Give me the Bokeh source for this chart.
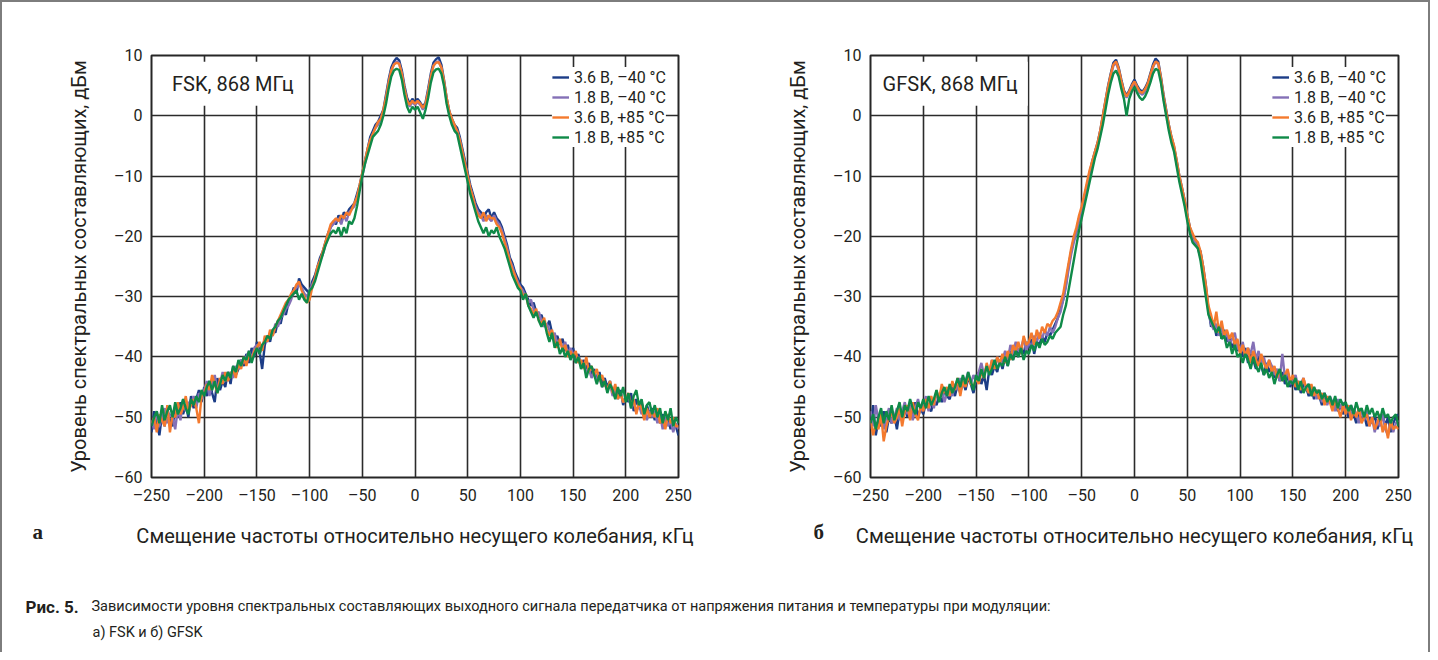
import numpy as np
from bokeh.plotting import figure
from bokeh.models import Range1d, Legend, LegendItem, Label
from bokeh.layouts import column, row
from bokeh.embed import file_html
from bokeh.resources import INLINE

# ---------------- data ----------------
FREQ_MIN, FREQ_MAX = -250.0, 250.0          # kHz, samples every 2.5 kHz
x_ticks = [-250, -200, -150, -100, -50, 0, 50, 100, 150, 200, 250]
y_ticks = [-60, -50, -40, -30, -20, -10, 0, 10]
series_labels = ["3.6 В, –40 °C", "1.8 В, –40 °C", "3.6 В, +85 °C", "1.8 В, +85 °C"]
series_colors = ["#1c3d87", "#8470b6", "#f47a2e", "#0f8a48"]

fsk_36v_m40 = [
    -52.5, -49.0, -51.0, -53.0, -49.5, -51.5, -48.5, -50.5, -51.5, -48.5,
    -50.0, -47.5, -49.5, -48.0, -50.0, -46.5, -48.5, -47.0, -45.5, -47.5,
    -45.0, -46.5, -44.0, -46.0, -47.5, -43.5, -45.5, -44.0, -45.0, -42.5,
    -44.5, -41.5, -43.0, -42.0, -40.5, -41.5, -39.5, -41.0, -38.5, -40.0,
    -37.5, -39.0, -42.0, -38.0, -36.5, -37.5, -35.5, -36.0, -34.0, -34.5,
    -32.5, -33.0, -31.0, -30.0, -28.5, -29.5, -27.0, -28.0, -28.5, -29.0,
    -29.5, -27.5, -26.5, -25.0, -23.5, -22.5, -21.0, -19.5, -18.5, -17.5,
    -18.0, -16.5, -17.5, -16.0, -16.5, -15.5, -15.0, -14.5, -13.0, -11.5,
    -9.5, -7.5, -5.5, -3.5, -2.5, -1.5, -1.0, 0.0, 1.0, 3.5,
    6.0, 8.0, 9.0, 9.6, 9.2, 7.5, 5.0, 3.0, 2.0, 2.8,
    2.3, 2.8, 2.2, 1.5, 2.2, 4.5, 7.0, 8.8, 9.4, 9.7,
    8.5, 6.0, 3.0, 0.8, -0.5, -1.5, -2.0, -3.5, -5.5, -7.5,
    -9.5, -11.5, -13.0, -14.5, -15.5, -16.0, -17.0, -16.0, -15.5, -17.0,
    -16.0, -17.0, -17.5, -18.5, -20.0, -21.5, -23.5, -24.5, -26.0, -27.0,
    -28.0, -28.5, -29.5, -30.5, -31.5, -31.0, -32.5, -33.5, -33.0, -34.5,
    -35.0, -34.0, -36.0, -37.5, -36.5, -38.0, -37.0, -39.0, -38.0, -40.0,
    -38.5, -40.5, -39.5, -41.5, -40.5, -42.0, -41.0, -43.0, -42.0, -44.0,
    -42.5, -44.5, -43.5, -45.0, -44.0, -46.0, -45.0, -46.5, -45.5, -48.0,
    -46.5, -47.5, -46.0, -49.0, -47.0, -48.5, -47.5, -50.0, -48.0, -49.5,
    -48.5, -50.5, -49.0, -51.0, -49.5, -51.5, -50.0, -52.0, -50.5, -51.5,
    -53.0]

fsk_18v_m40 = [
    -50.5, -52.0, -49.0, -51.5, -50.0, -48.5, -51.0, -49.5, -50.0, -52.0,
    -48.5, -50.5, -47.0, -49.0, -47.5, -48.0, -46.5, -48.5, -46.0, -47.0,
    -45.5, -44.0, -46.5, -44.5, -43.0, -45.5, -44.5, -42.5, -44.0, -43.5,
    -42.5, -43.5, -41.5, -42.0, -40.5, -41.0, -40.0, -39.0, -40.5, -38.5,
    -38.0, -39.5, -38.5, -37.0, -37.5, -36.0, -36.5, -34.5, -35.0, -33.5,
    -33.0, -32.0, -31.5, -30.5, -29.0, -28.5, -28.0, -28.5, -29.5, -30.0,
    -29.0, -28.0, -27.0, -25.5, -24.0, -23.0, -21.5, -20.0, -18.5, -18.0,
    -17.5, -17.0, -18.0, -16.5, -17.5, -16.0, -15.5, -15.0, -13.5, -12.0,
    -10.0, -8.0, -6.0, -4.0, -3.0, -2.0, -1.5, -0.5, 0.5, 3.0,
    5.5, 7.5, 8.5, 9.0, 8.7, 7.0, 4.5, 2.5, 1.5, 2.3,
    1.8, 2.3, 1.8, 1.0, 1.8, 4.0, 6.5, 8.3, 8.9, 9.0,
    8.0, 5.5, 2.5, 0.3, -1.0, -2.0, -2.5, -4.0, -6.0, -8.0,
    -10.0, -12.0, -13.5, -15.0, -16.0, -16.5, -17.5, -16.5, -17.0, -17.5,
    -16.5, -17.5, -18.0, -19.0, -20.5, -22.0, -24.0, -25.0, -26.5, -27.5,
    -28.5, -29.0, -30.0, -31.0, -30.5, -32.0, -33.0, -32.5, -34.0, -35.0,
    -34.5, -35.5, -37.0, -36.0, -38.0, -37.5, -38.5, -37.5, -39.5, -38.5,
    -39.5, -41.0, -40.0, -41.5, -41.0, -42.5, -42.0, -43.5, -42.5, -44.0,
    -43.5, -45.0, -44.5, -45.5, -44.5, -46.5, -45.5, -47.0, -46.0, -47.5,
    -47.0, -46.5, -48.5, -47.5, -49.0, -48.0, -49.5, -48.5, -50.5, -49.0,
    -50.0, -49.0, -51.0, -49.5, -52.0, -50.0, -51.5, -50.5, -52.5, -51.0,
    -52.0]

fsk_36v_p85 = [
    -51.0, -50.0, -52.5, -49.5, -50.5, -51.5, -48.0, -52.5, -49.5, -50.0,
    -47.5, -49.5, -48.5, -46.5, -49.0, -48.0, -47.0, -48.5, -51.0, -46.5,
    -46.0, -44.5, -45.5, -43.0, -44.5, -46.0, -43.5, -44.5, -42.5, -44.0,
    -43.0, -42.0, -43.5, -41.0, -42.0, -40.0, -41.5, -39.5, -40.5, -39.0,
    -38.5, -37.5, -39.0, -36.5, -37.5, -35.5, -36.5, -35.0, -34.0, -33.0,
    -32.0, -31.0, -30.5, -29.5, -29.0, -28.0, -27.5, -29.0, -30.0, -31.0,
    -30.5, -28.5, -27.0, -25.0, -24.0, -22.5, -21.0, -19.5, -18.0, -17.5,
    -17.0, -17.5, -16.5, -17.0, -16.0, -16.5, -15.5, -14.5, -13.5, -11.5,
    -9.5, -7.5, -5.5, -4.0, -3.0, -2.0, -1.0, -0.5, 1.0, 3.0,
    5.5, 7.5, 8.5, 8.8, 8.6, 7.0, 4.5, 2.5, 1.8, 2.5,
    2.0, 2.5, 2.0, 1.3, 2.0, 4.0, 6.5, 8.3, 8.8, 8.9,
    8.0, 5.8, 3.0, 0.8, -0.5, -1.5, -2.5, -4.0, -6.0, -8.0,
    -10.0, -12.0, -13.5, -15.5, -16.5, -17.0, -16.0, -17.5, -16.5, -17.0,
    -17.0, -18.0, -18.5, -19.5, -21.0, -22.5, -24.0, -25.5, -26.5, -28.0,
    -28.5, -30.0, -29.5, -31.5, -32.0, -33.0, -32.0, -34.0, -34.5, -33.5,
    -35.5, -36.5, -35.5, -37.5, -38.5, -37.0, -39.0, -38.0, -40.0, -39.0,
    -40.0, -39.0, -41.0, -40.5, -42.0, -40.0, -42.5, -41.5, -43.0, -42.0,
    -44.0, -43.0, -44.5, -45.5, -44.0, -46.0, -44.5, -47.0, -46.0, -47.5,
    -47.0, -46.0, -48.0, -47.0, -49.5, -47.5, -48.5, -50.5, -48.5, -50.0,
    -49.0, -50.0, -48.5, -51.0, -50.0, -52.0, -49.5, -51.0, -50.0, -51.5,
    -51.5]

fsk_18v_p85 = [
    -51.5, -50.0, -49.0, -51.0, -48.0, -50.5, -49.0, -48.0, -50.0, -47.5,
    -49.5, -48.5, -47.0, -48.5, -49.5, -47.0, -48.0, -46.5, -47.5, -45.5,
    -46.5, -45.0, -44.0, -45.5, -44.0, -46.0, -44.5, -43.0, -44.0, -42.5,
    -43.5, -41.5, -42.5, -40.5, -41.5, -40.0, -40.5, -39.0, -41.0, -39.5,
    -38.5, -39.5, -38.0, -37.5, -36.5, -37.0, -35.5, -35.0, -34.0, -33.5,
    -32.5, -31.5, -30.5, -30.0, -29.5, -29.0, -30.5, -29.5, -30.5, -31.0,
    -29.0, -28.5, -27.5, -26.0, -24.5, -23.0, -21.5, -20.5, -19.5, -19.0,
    -19.5, -18.5, -20.0, -18.5, -19.5, -17.5, -18.0, -17.0, -15.0, -12.5,
    -10.0, -8.0, -6.5, -5.0, -3.5, -3.0, -2.5, -1.5, 0.0, 2.0,
    4.5, 6.5, 7.5, 7.8, 7.6, 6.0, 3.5, 1.5, 0.5, 1.5,
    1.0, 1.5, 0.5, -0.5, 1.0, 3.0, 5.5, 7.2, 7.7, 7.8,
    7.0, 5.0, 2.0, 0.0, -1.5, -2.5, -3.0, -5.0, -7.0, -9.0,
    -11.0, -13.0, -14.5, -16.0, -17.5, -18.5, -19.5, -18.5, -20.0, -19.0,
    -19.5, -18.5, -20.0, -21.0, -22.0, -23.5, -25.0, -26.5, -27.5, -28.5,
    -29.0, -30.5, -29.5, -31.5, -32.5, -33.5, -32.5, -34.0, -35.0, -34.0,
    -36.0, -37.5, -36.0, -38.5, -37.5, -39.5, -38.5, -40.0, -39.0, -40.5,
    -39.5, -41.0, -40.0, -42.0, -41.0, -43.5, -42.0, -41.5, -43.0, -44.5,
    -43.0, -45.0, -44.0, -46.0, -44.5, -45.5, -47.0, -45.0, -46.5, -45.0,
    -47.5, -46.0, -48.5, -46.5, -45.5, -48.0, -47.0, -49.5, -48.0, -47.5,
    -49.5, -48.0, -50.0, -48.5, -51.0, -49.0, -50.5, -48.5, -51.5, -50.0,
    -51.0]

gfsk_36v_m40 = [
    -52.0, -48.0, -53.0, -50.5, -51.5, -49.0, -52.5, -50.0, -51.0, -49.5,
    -52.0, -49.0, -50.5, -48.5, -50.0, -48.0, -49.5, -47.5, -50.0, -48.5,
    -49.5, -47.5, -48.5, -49.0, -47.0, -48.0, -46.5, -47.5, -45.5, -46.5,
    -47.0, -45.0, -46.5, -44.5, -46.0, -44.0, -45.5, -43.5, -44.5, -46.0,
    -44.0, -42.5, -44.5, -43.0, -45.5, -42.0, -43.0, -41.5, -42.5, -40.5,
    -42.0, -40.0, -41.5, -39.0, -40.5, -38.5, -40.0, -38.5, -39.5, -37.5,
    -38.5, -37.0, -39.5, -37.5, -38.0, -36.5, -37.5, -36.0, -36.5, -35.5,
    -34.5, -33.5, -32.0, -30.5, -28.0, -25.0, -22.5, -20.5, -19.0, -17.0,
    -15.5, -13.5, -11.5, -9.5, -7.5, -6.0, -4.5, -2.5, 0.0, 2.5,
    5.0, 7.0, 8.8, 9.3, 8.0, 6.0, 4.2, 3.4, 4.2, 5.2,
    6.0, 5.0, 4.3, 4.0, 4.6, 5.5, 7.0, 8.5, 9.5, 9.0,
    6.5, 3.5, 1.0, -1.5, -3.5, -5.2, -7.5, -10.0, -12.0, -14.0,
    -16.5, -18.5, -20.0, -20.5, -21.5, -22.5, -25.0, -28.0, -32.0, -35.0,
    -34.0, -36.5, -35.0, -37.0, -35.5, -37.5, -36.5, -38.5, -37.5, -39.0,
    -38.0, -40.0, -38.5, -41.0, -39.5, -40.5, -42.0, -40.0, -41.5, -43.0,
    -41.0, -42.5, -41.5, -43.5, -42.0, -44.0, -42.5, -44.5, -43.0, -45.0,
    -43.5, -45.5, -44.0, -46.0, -44.5, -45.0, -46.5, -45.0, -47.0, -45.5,
    -46.5, -48.0, -46.0, -47.5, -47.0, -48.5, -47.5, -49.0, -48.0, -49.5,
    -48.5, -50.0, -48.0, -49.5, -51.0, -49.0, -50.5, -49.5, -51.5, -50.0,
    -51.0, -49.5, -52.0, -50.5, -49.5, -51.5, -50.0, -52.5, -51.0, -50.0,
    -49.5]

gfsk_18v_m40 = [
    -49.0, -51.5, -48.0, -50.5, -49.5, -52.0, -50.0, -48.5, -51.0, -50.0,
    -48.5, -50.5, -49.0, -47.5, -49.5, -48.0, -50.5, -48.5, -47.0, -49.0,
    -48.0, -46.5, -49.0, -47.0, -48.5, -46.0, -47.0, -45.5, -47.5, -46.0,
    -45.0, -46.5, -44.5, -45.5, -43.5, -45.0, -44.0, -42.5, -44.5, -43.0,
    -44.0, -42.5, -41.0, -43.0, -41.5, -42.5, -40.5, -42.0, -40.0, -41.5,
    -40.5, -39.0, -40.5, -38.0, -39.5, -37.5, -39.0, -38.5, -37.0, -39.0,
    -37.5, -38.5, -36.5, -37.5, -36.0, -37.0, -35.5, -36.5, -35.0, -36.0,
    -35.0, -33.5, -32.5, -30.5, -28.5, -25.5, -23.0, -21.0, -19.5, -17.5,
    -15.5, -13.5, -12.0, -10.0, -8.0, -6.5, -5.0, -3.0, -0.5, 2.0,
    4.5, 6.5, 8.3, 8.8, 7.5, 5.5, 3.8, 3.0, 3.8, 4.8,
    5.5, 4.6, 3.8, 3.5, 4.0, 5.0, 6.5, 8.0, 9.0, 8.5,
    6.0, 3.0, 0.5, -2.0, -4.0, -5.5, -8.0, -10.5, -12.5, -14.5,
    -17.0, -19.0, -20.5, -21.0, -22.0, -23.5, -26.0, -29.0, -32.5, -34.5,
    -35.5, -34.5, -36.5, -35.0, -37.0, -36.0, -38.0, -37.0, -36.0, -38.5,
    -39.0, -37.5, -40.0, -38.5, -39.5, -37.5, -40.5, -39.0, -41.0, -40.0,
    -42.0, -40.5, -41.5, -43.0, -42.0, -44.0, -39.5, -43.5, -42.5, -44.5,
    -44.0, -43.0, -45.0, -44.5, -43.5, -45.5, -44.5, -46.5, -45.0, -47.0,
    -45.5, -47.5, -46.0, -48.0, -46.5, -47.5, -49.0, -47.0, -48.5, -47.5,
    -49.5, -48.0, -50.0, -48.5, -49.5, -51.0, -48.5, -50.5, -49.0, -51.5,
    -50.0, -52.5, -50.5, -51.5, -49.5, -52.0, -53.0, -50.5, -52.5, -51.0,
    -50.5]

gfsk_36v_p85 = [
    -50.5, -53.0, -51.0, -52.0, -49.5, -54.0, -51.5, -50.0, -49.0, -51.0,
    -50.0, -48.5, -51.5, -49.0, -48.0, -50.5, -47.5, -49.5, -50.5, -48.0,
    -49.0, -47.0, -48.5, -46.5, -48.0, -45.5, -47.0, -44.5, -46.0, -45.0,
    -46.5, -44.0, -45.5, -43.5, -46.5, -44.0, -45.0, -43.0, -44.5, -45.0,
    -43.5, -44.5, -42.5, -43.5, -41.0, -42.5, -40.5, -42.0, -40.0, -41.0,
    -39.5, -41.0, -39.0, -40.5, -38.0, -39.0, -37.5, -39.5, -36.5, -38.0,
    -37.5, -36.0, -38.0, -35.5, -37.0, -35.0, -36.0, -34.5, -35.0, -34.0,
    -33.5, -32.5, -31.0, -29.5, -27.0, -24.5, -22.0, -20.0, -18.5, -16.5,
    -15.0, -13.0, -11.0, -9.0, -7.5, -6.0, -4.5, -2.5, 0.0, 2.5,
    4.8, 6.8, 8.5, 9.0, 7.8, 5.8, 4.0, 3.2, 4.0, 5.0,
    5.7, 4.8, 4.0, 3.8, 4.4, 5.3, 6.8, 8.2, 9.0, 8.7,
    6.3, 3.3, 0.8, -1.5, -3.5, -5.0, -7.5, -10.0, -12.0, -14.0,
    -16.5, -18.5, -19.5, -20.5, -21.0, -22.5, -25.0, -28.0, -31.5, -33.0,
    -35.0, -32.5, -36.0, -34.0, -36.5, -35.5, -37.0, -36.0, -38.0, -37.0,
    -39.5, -38.0, -40.0, -38.5, -41.0, -39.0, -40.5, -41.5, -39.5, -41.0,
    -42.0, -40.5, -42.5, -41.5, -43.5, -42.0, -44.0, -43.0, -42.0, -44.0,
    -43.0, -45.0, -44.0, -45.5, -43.5, -45.0, -46.0, -44.5, -46.5, -45.5,
    -47.0, -46.0, -48.0, -46.5, -47.5, -49.0, -47.0, -48.5, -50.0, -48.0,
    -49.5, -48.0, -50.5, -49.0, -50.0, -48.5, -51.0, -50.0, -49.5, -51.5,
    -50.0, -52.0, -51.0, -49.5, -52.5, -51.0, -53.5, -50.5, -52.0, -51.5,
    -52.0]

gfsk_18v_p85 = [
    -51.0, -49.5, -52.0, -50.0, -48.5, -51.0, -49.0, -50.5, -48.0, -50.5,
    -49.0, -47.5, -50.0, -48.0, -49.0, -47.0, -48.5, -49.5, -47.5, -48.5,
    -47.0, -48.5, -46.5, -48.0, -47.0, -45.5, -47.5, -46.0, -45.0, -46.5,
    -44.5, -46.0, -45.0, -43.5, -45.0, -43.0, -44.5, -42.5, -44.0, -45.5,
    -43.0, -44.0, -42.0, -43.5, -41.5, -43.0, -42.0, -40.5, -42.0, -41.0,
    -41.5, -40.0, -41.5, -39.5, -40.5, -39.0, -40.0, -38.5, -40.5, -39.0,
    -39.5, -38.0, -39.0, -37.5, -38.5, -37.0, -38.0, -37.5, -36.5, -37.0,
    -36.0, -35.5, -35.0, -33.0, -31.5, -29.0, -26.5, -24.0, -21.5, -19.0,
    -17.0, -15.0, -13.0, -11.0, -9.0, -7.0, -5.5, -3.5, -1.5, 1.0,
    3.5, 5.5, 7.0, 7.5, 6.5, 4.5, 2.8, 0.0, 2.8, 4.0,
    4.8, 3.8, 3.0, 2.6, 3.2, 4.2, 5.5, 7.0, 7.8, 7.5,
    5.5, 2.5, 0.0, -2.5, -4.5, -6.0, -8.5, -11.0, -13.0, -15.0,
    -17.5, -19.5, -21.0, -21.5, -22.0, -24.0, -27.0, -30.0, -33.0, -34.0,
    -35.0, -36.0, -35.0, -37.0, -36.5, -38.5, -37.5, -39.5, -38.0, -40.0,
    -39.5, -41.0, -39.5, -40.5, -42.0, -40.0, -41.5, -42.5, -41.0, -43.0,
    -42.0, -43.5, -42.5, -44.5, -43.0, -42.0, -44.0, -43.0, -45.0, -44.0,
    -44.5, -43.5, -45.5, -44.0, -46.0, -45.0, -44.5, -46.5, -45.0, -46.0,
    -45.5, -47.0, -46.0, -47.5, -46.5, -48.0, -46.5, -48.5, -47.0, -48.0,
    -47.5, -49.0, -48.0, -49.5, -47.5, -49.0, -48.5, -50.0, -48.0, -49.5,
    -48.5, -50.0, -49.0, -50.5, -48.5, -50.0, -49.5, -51.0, -50.0, -49.5,
    -51.5]

fsk_series = [fsk_36v_m40, fsk_18v_m40, fsk_36v_p85, fsk_18v_p85]
gfsk_series = [gfsk_36v_m40, gfsk_18v_m40, gfsk_36v_p85, gfsk_18v_p85]

# ---------------- texts & styling ----------------
SANS = "Roboto"
TXT = "#231f20"
GRID = "#2b2b2b"
x_label_text = "Смещение частоты относительно несущего колебания, кГц"
y_label_text = "Уровень спектральных составляющих, дБм"
panel_titles = ["FSK, 868 МГц", "GFSK, 868 МГц"]
panel_letters = ["а", "б"]
caption_bold = "Рис. 5."
caption_rest = ("Зависимости уровня спектральных составляющих выходного сигнала передатчика "
                "от напряжения питания и температуры при модуляции:")
caption_line2 = "а) FSK и б) GFSK"

PANEL_H = 505


def dash(v):
    return str(v).replace("-", "–")


def make_panel(series, title, width, border_left, border_right, title_x):
    p = figure(width=width, height=PANEL_H, output_backend="svg", toolbar_location=None,
               x_range=Range1d(FREQ_MIN, FREQ_MAX), y_range=Range1d(-60, 10),
               min_border_left=border_left, min_border_right=border_right,
               min_border_top=53, min_border_bottom=PANEL_H - 53 - 422)
    p.background_fill_color = "white"
    p.border_fill_color = "white"
    p.outline_line_color = "#262626"
    p.outline_line_width = 2
    for ax in (p.xaxis[0], p.yaxis[0]):
        ax.axis_line_color = None
        ax.major_tick_line_color = None
        ax.minor_tick_line_color = None
        ax.major_tick_out = 0
        ax.major_tick_in = 0
        ax.major_label_text_font = SANS
        ax.major_label_text_font_size = "16px"
        ax.major_label_text_color = TXT
        ax.axis_label_text_font = SANS
        ax.axis_label_text_font_size = "20px"
        ax.axis_label_text_font_style = "normal"
        ax.axis_label_text_color = TXT
    p.xaxis.ticker = x_ticks
    p.yaxis.ticker = y_ticks
    p.xaxis.major_label_overrides = {t: dash(t) for t in x_ticks}
    p.yaxis.major_label_overrides = {t: dash(t) for t in y_ticks}
    p.xaxis.major_label_standoff = 8
    p.yaxis.major_label_standoff = 9
    p.yaxis.axis_label = y_label_text
    p.yaxis.axis_label_standoff = 20
    p.grid.grid_line_color = GRID
    p.grid.grid_line_width = 1.6

    items = []
    for vals, lab, col in zip(series, series_labels, series_colors):
        xs = np.linspace(FREQ_MIN, FREQ_MAX, len(vals))
        r = p.line(xs, vals, line_color=col, line_width=2.4)
        items.append(LegendItem(label=lab, renderers=[r]))
    leg = Legend(items=items, location="top_right", margin=12, padding=8, spacing=0,
                 label_height=20, glyph_height=20, glyph_width=17, label_standoff=5,
                 label_text_font=SANS, label_text_font_size="16px",
                 label_text_color=TXT, border_line_color=None,
                 background_fill_color="white", background_fill_alpha=1.0)
    p.add_layout(leg)

    p.add_layout(Label(x=title_x, y=5.3, text=title, text_font=SANS,
                       text_font_size="20px", text_color=TXT, text_baseline="middle",
                       background_fill_color="white", background_fill_alpha=1.0,
                       padding=10))
    return p


pa = make_panel(fsk_series, panel_titles[0], 710, 149, 34, -240.0)
pb = make_panel(gfsk_series, panel_titles[1], 716, 158, 30, -248.0)

# bottom strip: x-axis titles, panel letters and the figure caption
BOT_W, BOT_H = 1426, 145
bot = figure(width=BOT_W, height=BOT_H, output_backend="svg", toolbar_location=None,
             x_range=Range1d(0, BOT_W), y_range=Range1d(0, BOT_H),
             min_border=0, min_border_left=0, min_border_right=0,
             min_border_top=0, min_border_bottom=0)
bot.axis.visible = False
bot.grid.visible = False
bot.outline_line_color = None
bot.background_fill_color = "white"
bot.border_fill_color = "white"

for cx in (412.5, 1132.0):
    bot.add_layout(Label(x=cx, y=117, text=x_label_text, text_font=SANS,
                         text_font_size="20px", text_color=TXT, text_align="center",
                         text_baseline="middle"))
for lx, letter in zip((30, 811), panel_letters):
    bot.add_layout(Label(x=lx, y=121, text=letter, text_font="Liberation Serif",
                         text_font_size="21px", text_font_style="bold", text_color=TXT,
                         text_baseline="alphabetic"))

bot.add_layout(Label(x=23, y=46, text=caption_bold, text_font=SANS,
                     text_font_size="17px", text_font_style="bold", text_color=TXT,
                     text_baseline="alphabetic"))
bot.add_layout(Label(x=89, y=46, text=caption_rest, text_font=SANS,
                     text_font_size="14.5px", text_color=TXT, text_baseline="alphabetic"))
bot.add_layout(Label(x=90, y=20, text=caption_line2, text_font=SANS,
                     text_font_size="14.5px", text_color=TXT, text_baseline="alphabetic"))

layout = column(row(pa, pb), bot,
                styles={"border-left": "2px solid #7d7d7d",
                        "border-top": "2px solid #7d7d7d",
                        "border-right": "2px solid #7d7d7d"})

open("out.html", "w").write(file_html(layout, INLINE))
